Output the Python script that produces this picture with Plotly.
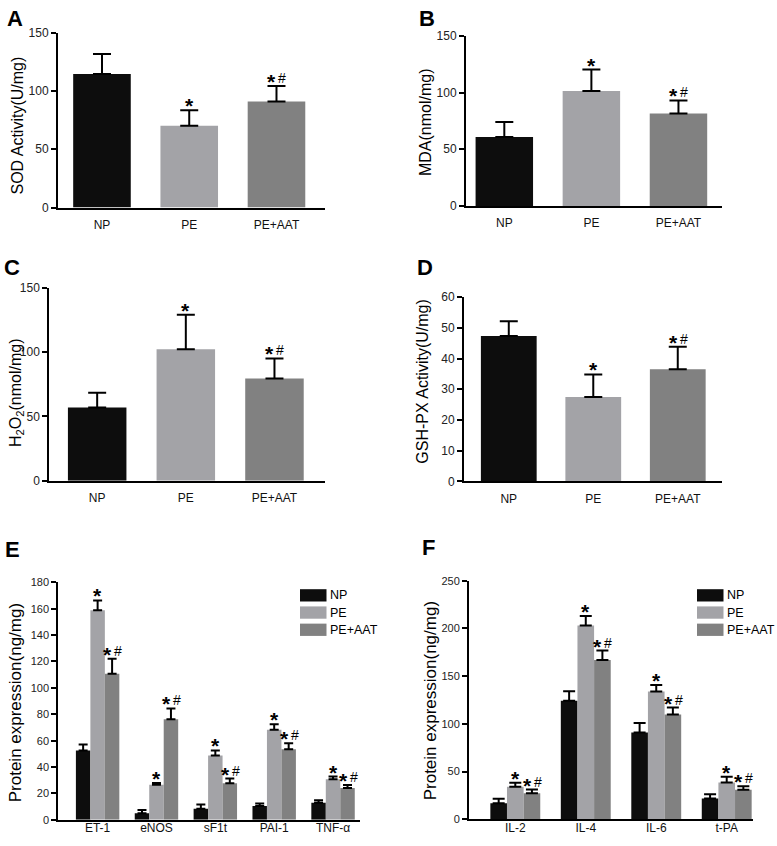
import plotly.graph_objects as go

W, H = 777, 846
FONT = "Liberation Sans, Arial, sans-serif"

# ---------------- data ----------------
groups = ["NP", "PE", "PE+AAT"]
colors = ["#0d0d0d", "#a3a3a7", "#818181"]
sig3 = ["", "*", "*#"]

sod_mean = [114.6, 70.2, 91.0]
sod_sd = [17.1, 13.2, 13.2]
mda_mean = [60.7, 101.4, 81.5]
mda_sd = [13.3, 18.8, 11.5]
h2o2_mean = [56.9, 102.3, 79.6]
h2o2_sd = [11.5, 26.8, 15.6]
gsh_mean = [47.3, 27.5, 36.5]
gsh_sd = [4.8, 7.3, 7.3]

markers_e = ["ET-1", "eNOS", "sF1t", "PAI-1", "TNF-α"]
np_e = [52.6, 5.0, 8.4, 10.4, 12.9]
np_e_sd = [4.5, 2.4, 3.3, 2.0, 2.0]
pe_e = [158.9, 26.6, 48.7, 68.3, 30.8]
pe_e_sd = [7.4, 1.4, 3.9, 4.2, 2.0]
aat_e = [110.7, 76.2, 27.8, 53.4, 24.1]
aat_e_sd = [11.3, 8.2, 3.5, 4.7, 2.2]

markers_f = ["IL-2", "IL-4", "IL-6", "t-PA"]
np_f = [16.8, 124.2, 91.0, 21.8]
np_f_sd = [4.7, 10.0, 10.0, 4.4]
pe_f = [34.2, 203.0, 133.9, 38.6]
pe_f_sd = [4.1, 10.0, 6.7, 6.0]
aat_f = [27.2, 166.8, 109.7, 30.9]
aat_f_sd = [4.0, 10.0, 7.4, 3.7]
sig_multi = ["", "*", "*#"]

yticks_a = [0, 50, 100, 150]
yticks_d = [0, 10, 20, 30, 40, 50, 60]
yticks_e = list(range(0, 181, 20))
yticks_f = [0, 50, 100, 150, 200, 250]

# ---------------- layout helpers ----------------
fig = go.Figure()
annotations = []
shapes = []

STAR_SHIFT = -9
HASH_SHIFT = -2


def add_sig(xref, yref, x, y, s):
    if not s:
        return
    star = dict(x=x, y=y, xref=xref, yref=yref, text="<b>*</b>", showarrow=False,
                yanchor="bottom", yshift=STAR_SHIFT,
                font=dict(family=FONT, size=21, color="black"))
    if "#" in s:
        star.update(xanchor="right", xshift=2)
        annotations.append(star)
        annotations.append(dict(
            x=x, y=y, xref=xref, yref=yref, text="#", showarrow=False,
            yanchor="bottom", xanchor="left", xshift=0, yshift=HASH_SHIFT,
            font=dict(family=FONT, size=14, color="black")))
    else:
        star.update(xanchor="center")
        annotations.append(star)


def add_axes(idx, xdom, ydom, xrange, yrange, ytickvals, cats, tickfs, catfs, multi):
    sx = "" if idx == 1 else str(idx)
    xa = dict(
        domain=[xdom[0] / W, xdom[1] / W], anchor="y" + sx, type="category",
        categoryorder="array", categoryarray=cats, range=xrange,
        showline=True, linecolor="black", linewidth=2, showgrid=False,
        zeroline=False, tickfont=dict(family=FONT, size=catfs, color="#111"),
        fixedrange=True)
    if multi:
        xa.update(ticks="", ticklabelstandoff=-4)
    else:
        xa.update(ticks="outside", ticklen=5, tickcolor="rgba(0,0,0,0)")
    fig.layout["xaxis" + sx] = xa
    fig.layout["yaxis" + sx] = dict(
        domain=[1 - ydom[1] / H, 1 - ydom[0] / H], anchor="x" + sx,
        range=yrange, tickvals=ytickvals, showline=True, linecolor="black",
        linewidth=2, ticks="outside", ticklen=5, tickwidth=2, tickcolor="black",
        showgrid=False, zeroline=False,
        tickfont=dict(family=FONT, size=tickfs, color="#222"), fixedrange=True)


def panel_letter(letter, xy):
    annotations.append(dict(
        x=xy[0] / W, y=1 - xy[1] / H, xref="paper", yref="paper",
        text="<b>%s</b>" % letter, showarrow=False, xanchor="center",
        yanchor="middle", font=dict(family=FONT, size=22, color="black")))


def y_title(text, tx, ty, size):
    annotations.append(dict(
        x=tx / W, y=1 - ty / H, xref="paper", yref="paper", text=text,
        textangle=-90, showarrow=False, xanchor="center", yanchor="middle",
        font=dict(family=FONT, size=size, color="black")))


def single_panel(idx, letter, means, sds, ytitle, xdom, ydom, xrange, yrange,
                 ytickvals, title_x, title_y, letter_xy, width=0.66):
    sx = "" if idx == 1 else str(idx)
    add_axes(idx, xdom, ydom, xrange, yrange, ytickvals, groups, 12, 12, False)
    fig.add_trace(go.Bar(
        x=groups, y=means, width=width, marker=dict(color=colors, line=dict(width=0)),
        error_y=dict(type="data", array=sds, arrayminus=[0] * len(sds),
                     symmetric=False, color="black", thickness=2, width=9),
        xaxis="x" + sx, yaxis="y" + sx, showlegend=False))
    for i, (m, s, g) in enumerate(zip(means, sds, sig3)):
        add_sig("x" + sx, "y" + sx, i, m + s, g)
    y_title(ytitle, title_x, title_y, 16)
    panel_letter(letter, letter_xy)


def multi_panel(idx, letter, cats, series, sds, xdom, ydom, xrange, yrange,
                ytickvals, title_x, title_y, letter_xy, bw, errw, legend_x):
    sx = "" if idx == 1 else str(idx)
    add_axes(idx, xdom, ydom, xrange, yrange, ytickvals, cats, 11, 12, True)
    offsets = [-1.5 * bw, -0.5 * bw, 0.5 * bw]
    for k, (vals, sd) in enumerate(zip(series, sds)):
        fig.add_trace(go.Bar(
            x=cats, y=vals, width=bw, offset=offsets[k], name=groups[k],
            marker=dict(color=colors[k], line=dict(width=0)),
            error_y=dict(type="data", array=sd, arrayminus=[0] * len(sd),
                         symmetric=False, color="black", thickness=2, width=errw),
            xaxis="x" + sx, yaxis="y" + sx, showlegend=False))
        for i, (m, s) in enumerate(zip(vals, sd)):
            add_sig("x" + sx, "y" + sx, i + offsets[k] + bw / 2, m + s, sig_multi[k])
    y_title("Protein expression(ng/mg)", title_x, title_y, 17)
    panel_letter(letter, letter_xy)
    # legend (swatch + label)
    tops = [592, 609.5, 627]
    for k in range(3):
        shapes.append(dict(type="rect", xref="paper", yref="paper",
                           x0=legend_x / W, x1=(legend_x + 26.5) / W,
                           y0=1 - (tops[k] + 12.5) / H, y1=1 - tops[k] / H,
                           fillcolor=colors[k], line=dict(width=0)))
        annotations.append(dict(
            x=(legend_x + 28) / W, y=1 - (tops[k] + 6.3) / H, xref="paper",
            yref="paper", text=groups[k], showarrow=False, xanchor="left",
            yanchor="middle", font=dict(family=FONT, size=12.5, color="black")))


single_panel(1, "A", sod_mean, sod_sd, "SOD Activity(U/mg)",
             (58, 325), (26, 204), [-0.504, 2.556], [0, 150], yticks_a,
             17.5, 121, (15, 12))
single_panel(2, "B", mda_mean, mda_sd, "MDA(nmol/mg)",
             (466, 722), (29.3, 202.3), [-0.44, 2.5], [0, 150], yticks_a,
             425, 117, (427, 12))
single_panel(3, "C", h2o2_mean, h2o2_sd, "H<sub>2</sub>O<sub>2</sub>(nmol/mg)",
             (49.3, 325), (285.7, 481.7), [-0.54, 2.57], [0, 150], yticks_a,
             16.5, 392, (12, 265))
single_panel(4, "D", gsh_mean, gsh_sd, "GSH-PX Activity(U/mg)",
             (464, 721.7), (295, 482.3), [-0.53, 2.52], [0, 60], yticks_d,
             423, 381, (425, 265))
multi_panel(5, "E", markers_e, [np_e, pe_e, aat_e], [np_e_sd, pe_e_sd, aat_e_sd],
            (58.3, 360), (585, 826.5), [-0.668, 4.458], [0, 180], yticks_e,
            15, 708, (12, 552), 0.246, 4.5, 300)
multi_panel(6, "F", markers_f, [np_f, pe_f, aat_f], [np_f_sd, pe_f_sd, aat_f_sd],
            (469, 753), (583.3, 826), [-0.657, 3.373], [0, 250], yticks_f,
            430, 706, (428, 550), 0.236, 6, 697)

fig.update_layout(
    width=W, height=H, margin=dict(l=0, r=0, t=0, b=0),
    paper_bgcolor="white", plot_bgcolor="white", barmode="overlay",
    showlegend=False, annotations=annotations, shapes=shapes,
    font=dict(family=FONT, color="black"))

fig.write_html("out.html", config={"displayModeBar": False},
               post_script="document.body.style.margin='0';document.body.style.overflow='hidden';")
